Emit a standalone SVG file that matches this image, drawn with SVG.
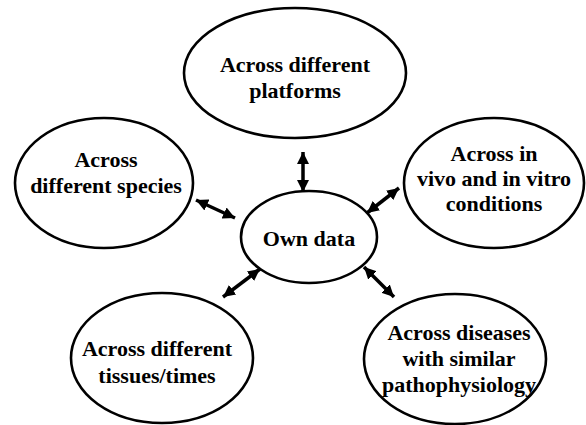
<svg xmlns="http://www.w3.org/2000/svg" width="586" height="425" viewBox="0 0 586 425">
<style>
.n{fill:#fff;stroke:#000;stroke-width:2.6}
.t{font-weight:bold;font-size:22px;fill:#000;text-anchor:middle}
.c{stroke:#000;stroke-width:3.5;fill:none;marker-start:url(#ah);marker-end:url(#ah)}
</style>
<defs>
<marker id="ah" markerUnits="userSpaceOnUse" markerWidth="14" markerHeight="14" refX="12" refY="7" orient="auto-start-reverse">
<path d="M0,1 L12,7 L0,13 Z" fill="#000"/>
</marker>
</defs>
<rect width="586" height="425" fill="#fff"/>
<g id="connectors">
<line class="c" x1="303" y1="152" x2="303" y2="192"/>
<line class="c" x1="196" y1="200" x2="235" y2="218"/>
<line class="c" x1="367" y1="213" x2="399" y2="188"/>
<line class="c" x1="260" y1="269" x2="223" y2="297"/>
<line class="c" x1="364" y1="267" x2="394" y2="297"/>
</g>
<g font-family="'Liberation Serif', 'Times New Roman', 'DejaVu Serif', serif">
<g id="platforms">
<ellipse class="n" cx="295" cy="73" rx="111" ry="65"/>
<text class="t" x="295" y="72">Across different</text>
<text class="t" x="295" y="98">platforms</text>
</g>
<g id="species">
<ellipse class="n" cx="104" cy="183" rx="89" ry="65"/>
<text class="t" x="106" y="167">Across</text>
<text class="t" x="106" y="193">different species</text>
</g>
<g id="invivo">
<ellipse class="n" cx="494" cy="183" rx="90" ry="65"/>
<text class="t" x="494" y="161">Across in</text>
<text class="t" x="494" y="186">vivo and in vitro</text>
<text class="t" x="494" y="211">conditions</text>
</g>
<g id="owndata">
<ellipse class="n" cx="309" cy="237" rx="68" ry="46"/>
<text class="t" x="309" y="246">Own data</text>
</g>
<g id="tissues">
<ellipse class="n" cx="162" cy="358" rx="91" ry="65"/>
<text class="t" x="157" y="356">Across different</text>
<text class="t" x="157" y="383">tissues/times</text>
</g>
<g id="diseases">
<ellipse class="n" cx="455" cy="359" rx="91" ry="65"/>
<text class="t" x="459" y="340">Across diseases</text>
<text class="t" x="459" y="366">with similar</text>
<text class="t" x="459" y="392">pathophysiology</text>
</g>
</g>
</svg>
